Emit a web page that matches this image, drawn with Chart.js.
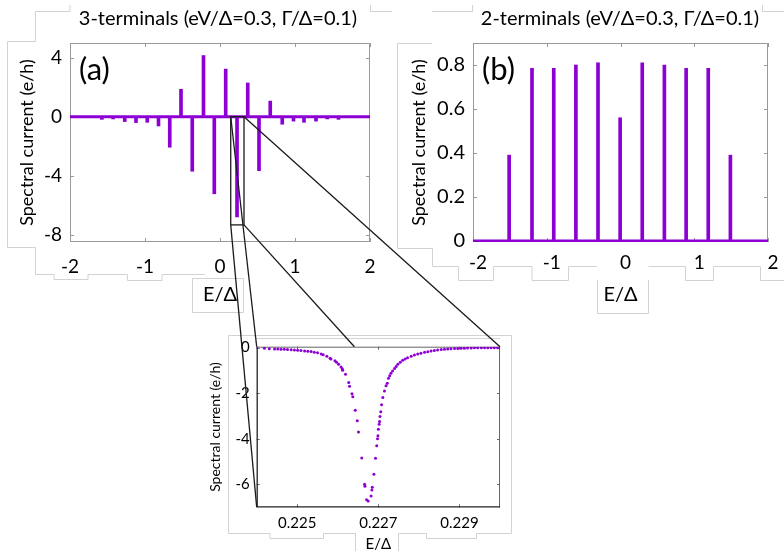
<!DOCTYPE html>
<html>
<head>
<meta charset="utf-8">
<script src="https://cdn.jsdelivr.net/npm/chart.js@4.4.0/dist/chart.umd.min.js"></script>
<style>
  body { margin: 0; background: #fff; }
  #page { position: relative; width: 784px; height: 551px; overflow: hidden; }
  canvas { position: absolute; }
</style>
</head>
<body>
<div id="page">
  <canvas id="deco" width="784" height="551" style="left:0;top:0"></canvas>
  <canvas id="ca" width="392" height="320" style="left:0;top:0"></canvas>
  <canvas id="cb" width="392" height="320" style="left:392px;top:0"></canvas>
  <canvas id="ci" width="330" height="231" style="left:190px;top:320px"></canvas>
  <canvas id="over" width="784" height="551" style="left:0;top:0;pointer-events:none"></canvas>
</div>
<script>
// panel (a): 3 terminals, peak positions (E/Δ) and spectral current (e/h)
const peakEA = [-1.575, -1.425, -1.27, -1.12, -0.97, -0.82, -0.67, -0.52, -0.37, -0.22, -0.076,
                0.076, 0.227, 0.37, 0.52, 0.67, 0.83, 0.98, 1.12, 1.28, 1.43, 1.58];
const peakIA = [-0.18, -0.15, -0.33, -0.4, -0.38, -0.63, -2.07, 1.86, -3.7, 4.15, -5.23,
                3.23, -6.8, 2.29, -3.66, 1.06, -0.51, -0.3, -0.38, -0.3, -0.15, -0.18];

// panel (b): 2 terminals
const peakEB = [-1.51, -1.2, -0.905, -0.605, -0.305, -0.005, 0.295, 0.595, 0.89, 1.19, 1.49];
const peakIB = [0.39, 0.785, 0.785, 0.8, 0.81, 0.56, 0.81, 0.8, 0.785, 0.785, 0.39];

// flat background current across the whole window
const baseE = [-2, 2];
const baseI = [0, 0];

// zoom of the peak near E/Δ = 0.227
const zoomE = [0.22400, 0.22419, 0.22431, 0.22444, 0.22452, 0.22460, 0.22468, 0.22476, 0.22485, 0.22493,
  0.22501, 0.22509, 0.22518, 0.22526, 0.22534, 0.22542, 0.22550, 0.22559, 0.22564, 0.22573,
  0.22581, 0.22583, 0.22593, 0.22597, 0.22602, 0.22608, 0.22611, 0.22612, 0.22619, 0.22627,
  0.22629, 0.22635, 0.22637, 0.22643, 0.22648, 0.22651, 0.22659, 0.22666, 0.22667, 0.22671,
  0.22675, 0.22682, 0.22684, 0.22685, 0.22689, 0.22693, 0.22696, 0.22698, 0.22699, 0.22700,
  0.22702, 0.22703, 0.22704, 0.22706, 0.22708, 0.22711, 0.22715, 0.22719, 0.22722, 0.22725,
  0.22728, 0.22731, 0.22735, 0.22740, 0.22744, 0.22748, 0.22754, 0.22760, 0.22766, 0.22772,
  0.22781, 0.22789, 0.22797, 0.22805, 0.22814, 0.22822, 0.22830, 0.22838, 0.22846, 0.22855,
  0.22863, 0.22871, 0.22879, 0.22888, 0.22896, 0.22904, 0.22912, 0.22920, 0.22929, 0.22937,
  0.22945, 0.22954, 0.22962, 0.22970, 0.22978, 0.22986, 0.22994, 0.23000];
const zoomI = [-0.01, -0.03, -0.05, -0.057, -0.06, -0.07, -0.075, -0.086, -0.09, -0.1,
  -0.12, -0.13, -0.145, -0.16, -0.175, -0.2, -0.23, -0.28, -0.31, -0.38,
  -0.47, -0.5, -0.58, -0.64, -0.73, -0.85, -0.93, -0.99, -1.17, -1.53,
  -1.69, -2.02, -2.15, -2.75, -3.21, -3.7, -4.84, -5.99, -6.08, -6.67,
  -6.72, -6.5, -6.24, -6.12, -5.55, -4.85, -4.3, -4.0, -3.86, -3.58,
  -3.36, -3.24, -3.02, -2.81, -2.51, -2.19, -1.9, -1.67, -1.56, -1.34,
  -1.23, -1.12, -1.02, -0.92, -0.83, -0.73, -0.64, -0.55, -0.5, -0.44,
  -0.38, -0.32, -0.28, -0.25, -0.2, -0.18, -0.145, -0.13, -0.1, -0.086,
  -0.072, -0.057, -0.055, -0.043, -0.04, -0.028, -0.026, -0.02, -0.014, -0.01,
  -0.008, -0.006, -0.005, -0.004, -0.003, -0.002, -0.001, -0.001];

// ticks
const xTicksAB = [-2, -1, 0, 1, 2];
const xLabelsAB = ['-2', '-1', '0', '1', '2'];
const yTicksA = [4, 0, -4, -8];
const yLabelsA = ['4', '0', '-4', '-8'];
const yTicksB = [0.8, 0.6, 0.4, 0.2, 0];
const yLabelsB = ['0.8', '0.6', '0.4', '0.2', '0'];
const xTicksZ = [0.225, 0.227, 0.229];
const xLabelsZ = ['0.225', '0.227', '0.229'];
const yTicksZ = [0, -2, -4, -6];
const yLabelsZ = ['0', '-2', '-4', '-6'];

const PURPLE = '#8c00d4';
const FONT = 'Lato, "Open Sans", sans-serif';
Chart.defaults.color = '#000';
Chart.defaults.font.family = FONT;

const pts = (xs, ys) => xs.map((x, i) => ({ x: x, y: ys[i] }));

// box round the plot area with small inward ticks on all four sides
const framePlugin = {
  id: 'frame',
  beforeDatasetsDraw(chart, args, o) {
    const { ctx, chartArea: a, scales: { x, y } } = chart;
    const len = o.tick || 4;
    ctx.save();
    ctx.lineWidth = 1;
    ctx.strokeStyle = o.color;
    ctx.beginPath();
    x.ticks.forEach(t => {
      const px = Math.round(x.getPixelForValue(t.value)) + 0.5;
      ctx.moveTo(px, a.bottom); ctx.lineTo(px, a.bottom - len);
      ctx.moveTo(px, a.top); ctx.lineTo(px, a.top + len);
    });
    y.ticks.forEach(t => {
      const py = Math.round(y.getPixelForValue(t.value)) + 0.5;
      ctx.moveTo(a.left, py); ctx.lineTo(a.left + len, py);
      ctx.moveTo(a.right, py); ctx.lineTo(a.right - len, py);
    });
    ctx.stroke();
    ctx.beginPath();
    ctx.moveTo(a.left, a.top + 0.5); ctx.lineTo(a.right - 0.5, a.top + 0.5); ctx.lineTo(a.right - 0.5, a.bottom);
    ctx.stroke();
    ctx.strokeStyle = o.axisColor || o.color;
    ctx.lineWidth = o.axisWidth || 1;
    ctx.beginPath();
    ctx.moveTo(a.left + 0.5, a.top); ctx.lineTo(a.left + 0.5, a.bottom - 0.5); ctx.lineTo(a.right, a.bottom - 0.5);
    ctx.stroke();
    ctx.restore();
  }
};

// panel title and (a)/(b) letter
const textPlugin = {
  id: 'panelText',
  afterDraw(chart, args, o) {
    if (!o.title) return;
    const ctx = chart.ctx;
    ctx.save();
    ctx.fillStyle = '#000';
    ctx.textBaseline = 'middle';
    ctx.textAlign = 'center';
    ctx.font = '20px ' + FONT;
    ctx.fillText(o.title, o.titleX, 19);
    ctx.textAlign = 'left';
    ctx.font = '31px ' + FONT;
    ctx.fillText(o.panel, o.panelX, 70);
    ctx.restore();
  }
};

function xAxis(min, max, ticks, labels, opt) {
  return {
    type: 'linear', min: min, max: max, offset: false,
    grid: { display: false, drawTicks: false }, border: { display: false },
    afterBuildTicks: s => { s.ticks = ticks.map(v => ({ value: v })); },
    ticks: { padding: opt.pad, labelOffset: opt.labelOffset || 0, maxRotation: 0, autoSkip: false,
             font: { size: opt.size }, callback: (v, i) => labels[i] },
    title: { display: true, text: 'E/Δ', font: { size: opt.titleSize || opt.size }, padding: { top: 0, bottom: opt.titlePad } },
    afterFit: s => { s.height = opt.height; }
  };
}
function yAxis(min, max, ticks, labels, opt) {
  return {
    type: 'linear', min: min, max: max,
    grid: { display: false, drawTicks: false }, border: { display: false },
    afterBuildTicks: s => { s.ticks = ticks.map(v => ({ value: v })); },
    ticks: { padding: opt.pad, autoSkip: false, font: { size: opt.size }, callback: (v, i) => labels[i] },
    title: { display: true, text: 'Spectral current (e/h)', font: { size: opt.titleSize || opt.size },
             padding: { top: opt.titlePad, bottom: 0 } },
    afterFit: s => { s.width = opt.width; }
  };
}

const chartA = new Chart(document.getElementById('ca'), {
  type: 'bar',
  data: {
    datasets: [
      { type: 'line', data: pts(baseE, baseI), borderColor: PURPLE, borderWidth: 3, pointRadius: 0, order: 2 },
      { type: 'bar', data: pts(peakEA, peakIA), backgroundColor: PURPLE, barThickness: 3, order: 1 }
    ]
  },
  options: {
    responsive: false, animation: false,
    layout: { padding: { left: 0, right: 22, top: 43, bottom: 0 } },
    plugins: {
      legend: { display: false }, tooltip: { enabled: false },
      frame: { color: '#999' },
      panelText: { title: '3-terminals (eV/Δ=0.3, Γ/Δ=0.1)', titleX: 218, panel: '(a)', panelX: 79 }
    },
    scales: {
      x: xAxis(-2, 2, xTicksAB, xLabelsAB, { pad: 13.5, size: 19, titleSize: 20, titlePad: 13, height: 78 }),
      y: yAxis(-8.5, 5, yTicksA, yLabelsA, { pad: 8, size: 19, titleSize: 18, titlePad: 16, width: 70 })
    }
  },
  plugins: [framePlugin, textPlugin]
});

const chartB = new Chart(document.getElementById('cb'), {
  type: 'bar',
  data: {
    datasets: [
      { type: 'line', data: pts(baseE, baseI), borderColor: PURPLE, borderWidth: 3, pointRadius: 0, order: 2 },
      { type: 'bar', data: pts(peakEB, peakIB), backgroundColor: PURPLE, barThickness: 3, order: 1 }
    ]
  },
  options: {
    responsive: false, animation: false,
    layout: { padding: { left: 0, right: 16, top: 43, bottom: 0 } },
    plugins: {
      legend: { display: false }, tooltip: { enabled: false },
      frame: { color: '#999' },
      panelText: { title: '2-terminals (eV/Δ=0.3, Γ/Δ=0.1)', titleX: 228, panel: '(b)', panelX: 90 }
    },
    scales: {
      x: xAxis(-2, 2, xTicksAB, xLabelsAB, { pad: 9.5, size: 19, titleSize: 20, titlePad: 13, height: 78, labelOffset: 5 }),
      y: yAxis(-0.005, 0.9, yTicksB, yLabelsB, { pad: 8, size: 20, titleSize: 18, titlePad: 16, width: 81 })
    }
  },
  plugins: [framePlugin, textPlugin]
});

const chartZ = new Chart(document.getElementById('ci'), {
  type: 'scatter',
  data: {
    datasets: [
      { data: pts(zoomE, zoomI), backgroundColor: PURPLE, borderWidth: 0, pointRadius: 1.5 }
    ]
  },
  options: {
    responsive: false, animation: false,
    layout: { padding: { left: 0, right: 20, top: 26.7, bottom: 0 } },
    plugins: {
      legend: { display: false }, tooltip: { enabled: false },
      frame: { color: '#666', axisColor: '#222', axisWidth: 1.3, tick: 3 }
    },
    scales: {
      x: xAxis(0.224, 0.230, xTicksZ, xLabelsZ, { pad: 6.5, size: 15, titleSize: 15, titlePad: -2, height: 43.7 }),
      y: yAxis(-7, 0.04, yTicksZ, yLabelsZ, { pad: 7, size: 15, titleSize: 14, titlePad: 17, width: 66.7 })
    }
  },
  plugins: [framePlugin]
});

// faint frames left over from the pasted figure parts
const deco = document.getElementById('deco').getContext('2d');
deco.strokeStyle = '#d2d2d2';
deco.lineWidth = 1;
[
  [[70, 5], [70, 11.5], [35.5, 11.5], [35.5, 41.5], [7.5, 41.5], [7.5, 247.5], [35.5, 247.5], [35.5, 274.5],
   [54, 274.5], [54, 279.5], [88, 279.5], [88, 274.5], [127.5, 274.5], [127.5, 280.5], [162, 280.5], [162, 274.5], [205, 274.5]],
  [[192.5, 278.5], [192.5, 312.5], [243.5, 312.5], [243.5, 278.5], [192.5, 278.5]],
  [[370.5, 5], [370.5, 11.5], [392, 11.5]],
  [[432, 11.5], [472.5, 11.5], [472.5, 5]],
  [[762.5, 5], [762.5, 11.5], [784, 11.5]],
  [[432, 43.5], [397.5, 43.5], [397.5, 248.5], [432.5, 248.5], [432.5, 266.5], [458.5, 266.5], [458.5, 280.5],
   [493.5, 280.5], [493.5, 266.5], [532, 266.5], [532, 280.5], [568.5, 280.5], [568.5, 266.5], [597, 266.5]],
  [[597.5, 280], [597.5, 313.5], [648.5, 313.5], [648.5, 280]],
  [[648.5, 266.5], [685.5, 266.5], [685.5, 280.5], [713.5, 280.5], [713.5, 266.5], [760.5, 266.5], [760.5, 280.5], [784, 280.5]],
  [[228.5, 335.5], [511.5, 335.5], [511.5, 533.5], [476.5, 533.5], [476.5, 538.5], [426.5, 538.5], [426.5, 533.5], [398.5, 533.5]],
  [[228.5, 335.5], [228.5, 533.5], [270, 533.5], [270, 538.5], [323.5, 538.5], [323.5, 533.5], [356, 533.5]],
  [[355.5, 533.5], [355.5, 551]], [[398.5, 533.5], [398.5, 551]],
  [[256, 338.5], [500, 338.5]]
].forEach(line => {
  deco.beginPath();
  line.forEach((p, i) => i ? deco.lineTo(p[0], p[1]) : deco.moveTo(p[0], p[1]));
  deco.stroke();
});

// zoom box in (a) and the lines to the inset
const ov = document.getElementById('over').getContext('2d');
const sx = chartA.scales.x, sy = chartA.scales.y;
const r = { l: sx.getPixelForValue(0.143), r: sx.getPixelForValue(0.32), t: sy.getPixelForValue(0), b: sy.getPixelForValue(-7.34) };
const z = chartZ.chartArea;
const zi = { l: z.left + 190, r: z.right + 190, t: z.top + 320, b: z.bottom + 320 };
ov.strokeStyle = '#1a1a1a';
ov.lineWidth = 1.3;
ov.strokeRect(r.l, r.t, r.r - r.l, r.b - r.t);
const seg = (x1, y1, x2, y2) => { ov.beginPath(); ov.moveTo(x1, y1); ov.lineTo(x2, y2); ov.stroke(); };
seg(r.l, r.b, zi.l, zi.b);
seg(r.l, r.t, zi.l, zi.t);
seg(r.r, r.t, zi.r, zi.t);
const k = (zi.t - r.b) / (zi.b - r.b);
seg(r.r, r.b, r.r + k * (zi.r - r.r), zi.t);
</script>
</body>
</html>
